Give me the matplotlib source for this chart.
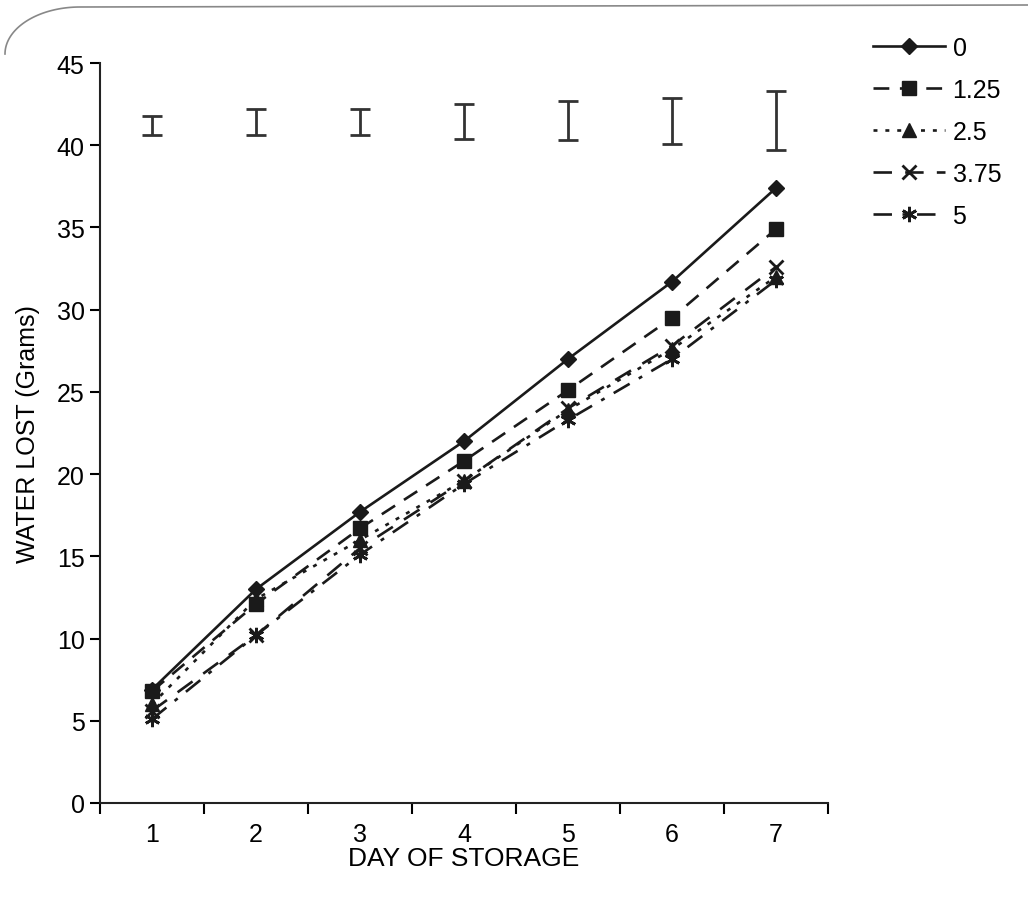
import matplotlib
matplotlib.use("Agg")
import matplotlib.pyplot as plt
import numpy as np
from matplotlib.lines import Line2D

plt.rcParams['font.family'] = ['Liberation Sans', 'DejaVu Sans']

days = [1, 2, 3, 4, 5, 6, 7]
day_labels = ['1', '2', '3', '4', '5', '6', '7']
series_names = ['0', '1.25', '2.5', '3.75', '5']
s0 = [6.9, 13.0, 17.7, 22.0, 27.0, 31.7, 37.4]
s125 = [6.8, 12.1, 16.7, 20.8, 25.1, 29.5, 34.9]
s25 = [6.0, 12.4, 16.0, 19.6, 23.9, 27.6, 32.0]
s375 = [5.6, 10.2, 15.5, 19.6, 24.0, 27.8, 32.6]
s5 = [5.1, 10.2, 15.1, 19.4, 23.3, 27.0, 31.8]
err_center = [41.2, 41.4, 41.4, 41.45, 41.5, 41.5, 41.5]
err_half = [0.55, 0.8, 0.8, 1.05, 1.2, 1.4, 1.8]

fig = plt.figure(figsize=(10.28, 9.12), dpi=100)
ax = fig.add_axes([100/1028, 1-804/912, 728/1028, 740/912])

styles = [
    dict(ls='-', marker='D', ms=8.5),
    dict(ls=(0, (6, 4)), marker='s', ms=9.5),
    dict(ls=(0, (1.5, 3)), marker='^', ms=9.5),
    dict(ls=(0, (7, 5)), marker='x', ms=10, mew=2),
    dict(ls=(0, (7, 4, 1.5, 4)), marker=(6, 2, 0), ms=11, mew=2),
]
data = [s0, s125, s25, s375, s5]
lc = '#1a1a1a'
for name, vals, st in zip(series_names, data, styles):
    ax.plot(days, vals, color=lc, lw=1.9, label=name,
            markerfacecolor=lc, markeredgecolor=lc, **st)

ax.errorbar(days, err_center, yerr=err_half, fmt='none', ecolor='#333333',
            elinewidth=2, capsize=7, capthick=2)

ax.set_xlim(0.5, 7.5)
ax.set_ylim(0, 45)
ax.set_yticks(np.arange(0, 46, 5))
ax.set_xticks(days)
ax.set_xticklabels(day_labels)
ax.set_xticks(np.arange(0.5, 7.6, 1), minor=True)
ax.tick_params(axis='x', which='major', length=0, pad=14, labelsize=18)
ax.tick_params(axis='x', which='minor', length=8, width=1.5, direction='out')
ax.tick_params(axis='y', length=7, width=1.5, direction='out', labelsize=18, pad=4)
for sp in ['top', 'right']:
    ax.spines[sp].set_visible(False)
for sp in ['left', 'bottom']:
    ax.spines[sp].set_linewidth(1.5)
    ax.spines[sp].set_color('#222222')

ax.set_xlabel('DAY OF STORAGE', fontsize=19, labelpad=0)
ax.set_ylabel('WATER LOST (Grams)', fontsize=18, labelpad=12)

leg = fig.legend(loc='upper left', bbox_to_anchor=(850/1028, 1-14/912),
                 frameon=False, fontsize=18, handlelength=2.9,
                 handletextpad=0.3, labelspacing=0.72)

# scanned page border curve
t = np.linspace(0, 1, 50)
xs = np.concatenate([5 + 75 * (1 - np.cos(t * np.pi / 2)), [1028]])
ys = np.concatenate([55 - 47 * np.sin(t * np.pi / 2), [6]])
fig.add_artist(Line2D(xs / 1028, 1 - ys / 912, color='#888888', lw=1.2,
                      transform=fig.transFigure))

fig.savefig('out.png', dpi=100)
